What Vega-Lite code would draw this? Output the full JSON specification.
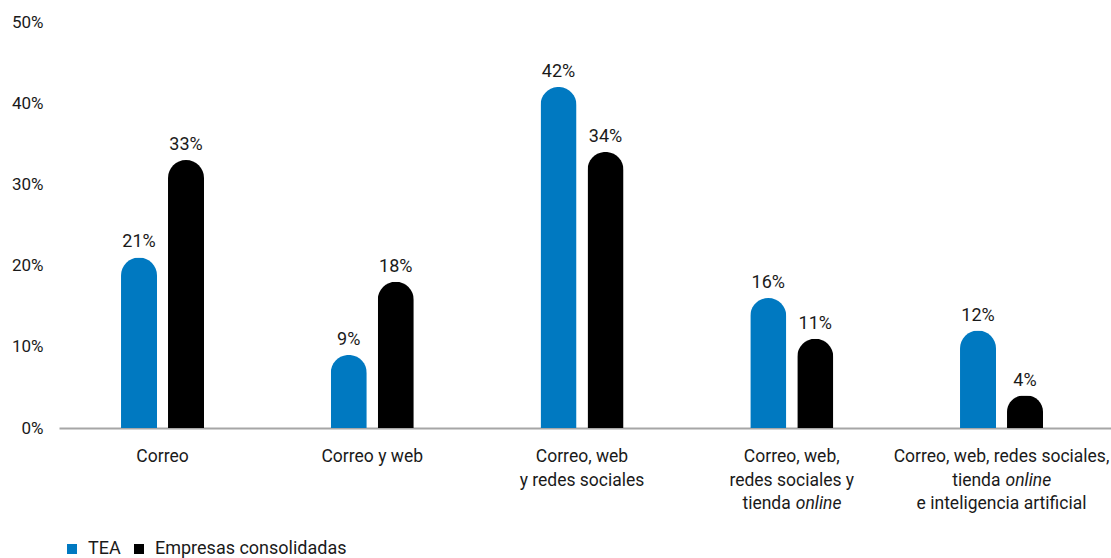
{
  "$schema": "https://vega.github.io/schema/vega-lite/v6.json",
  "autosize": "none",
  "width": 1052,
  "height": 406,
  "padding": {"left": 59, "top": 22, "right": 0, "bottom": 130},
  "background": "white",
  "config": {
    "view": {"stroke": null},
    "font": "Roboto",
    "text": {"font": "Roboto", "fontSize": 17.5, "color": "#1a1a1a", "baseline": "top"}
  },
  "datasets": {
    "bars": [
      {"cat": "Correo", "serie": "TEA", "value": 0.21},
      {"cat": "Correo", "serie": "Empresas consolidadas", "value": 0.33},
      {"cat": "Correo y web", "serie": "TEA", "value": 0.09},
      {"cat": "Correo y web", "serie": "Empresas consolidadas", "value": 0.18},
      {"cat": "Correo, web y redes sociales", "serie": "TEA", "value": 0.42},
      {"cat": "Correo, web y redes sociales", "serie": "Empresas consolidadas", "value": 0.34},
      {"cat": "Correo, web, redes sociales y tienda online", "serie": "TEA", "value": 0.16},
      {"cat": "Correo, web, redes sociales y tienda online", "serie": "Empresas consolidadas", "value": 0.11},
      {"cat": "Correo, web, redes sociales, tienda online e inteligencia artificial", "serie": "TEA", "value": 0.12},
      {"cat": "Correo, web, redes sociales, tienda online e inteligencia artificial", "serie": "Empresas consolidadas", "value": 0.04}
    ],
    "cats": [
      {"cat": "Correo", "row": 1, "style": "center", "text": "Correo"},
      {"cat": "Correo y web", "row": 1, "style": "center", "text": "Correo y web"},
      {"cat": "Correo, web y redes sociales", "row": 1, "style": "center", "text": "Correo, web"},
      {"cat": "Correo, web y redes sociales", "row": 2, "style": "center", "text": "y redes sociales"},
      {"cat": "Correo, web, redes sociales y tienda online", "row": 1, "style": "center", "text": "Correo, web,"},
      {"cat": "Correo, web, redes sociales y tienda online", "row": 2, "style": "center", "text": "redes sociales y"},
      {"cat": "Correo, web, redes sociales y tienda online", "row": 3, "style": "plain", "text": "tienda"},
      {"cat": "Correo, web, redes sociales y tienda online", "row": 3, "style": "ital", "text": "online"},
      {"cat": "Correo, web, redes sociales, tienda online e inteligencia artificial", "row": 1, "style": "center", "text": "Correo, web, redes sociales,"},
      {"cat": "Correo, web, redes sociales, tienda online e inteligencia artificial", "row": 2, "style": "plain", "text": "tienda"},
      {"cat": "Correo, web, redes sociales, tienda online e inteligencia artificial", "row": 2, "style": "ital", "text": "online"},
      {"cat": "Correo, web, redes sociales, tienda online e inteligencia artificial", "row": 3, "style": "center", "text": "e inteligencia artificial"}
    ]
  },
  "layer": [
    {
      "data": {"name": "bars"},
      "mark": {"type": "bar", "cornerRadiusTopLeft": 18, "cornerRadiusTopRight": 18},
      "encoding": {
        "x": {
          "field": "cat", "type": "nominal", "sort": null,
          "scale": {"paddingInner": 0.6043, "paddingOuter": 0.3099, "align": 0.477},
          "axis": {"labels": false, "ticks": false, "title": null, "domainColor": "#a6a6a6", "domainWidth": 2}
        },
        "xOffset": {
          "field": "serie", "type": "nominal",
          "sort": ["TEA", "Empresas consolidadas"],
          "scale": {"paddingInner": 0.234, "paddingOuter": 0}
        },
        "y": {
          "field": "value", "type": "quantitative",
          "scale": {"domain": [0, 0.5]},
          "axis": {
            "values": [0, 0.1, 0.2, 0.3, 0.4, 0.5], "format": ".0%", "title": null,
            "grid": false, "domain": false, "ticks": false, "labelPadding": 16,
            "labelFont": "Roboto", "labelFontSize": 17, "labelColor": "#1a1a1a"
          }
        },
        "color": {
          "field": "serie", "type": "nominal",
          "scale": {"domain": ["TEA", "Empresas consolidadas"], "range": ["#0079C1", "#000000"]},
          "legend": {
            "orient": "none", "legendX": 4, "legendY": 518, "direction": "horizontal",
            "title": null, "symbolType": "square", "symbolSize": 100, "symbolStrokeWidth": 0,
            "labelFont": "Roboto", "labelFontSize": 18, "labelColor": "#1a1a1a", "labelLimit": 400,
            "labelOffset": 7, "columnPadding": 9, "padding": 0
          }
        }
      }
    },
    {
      "data": {"name": "bars"},
      "mark": {"type": "text", "baseline": "bottom", "dy": -6, "fontSize": 18},
      "encoding": {
        "x": {"field": "cat", "type": "nominal", "sort": null},
        "xOffset": {"field": "serie", "type": "nominal", "sort": ["TEA", "Empresas consolidadas"]},
        "y": {"field": "value", "type": "quantitative"},
        "text": {"field": "value", "type": "quantitative", "format": ".0%"}
      }
    },
    {
      "data": {"name": "cats"},
      "transform": [{"filter": "datum.row === 1 && datum.style === 'center'"}],
      "mark": {"type": "text", "align": "center", "dy": 20},
      "encoding": {
        "x": {"field": "cat", "type": "nominal", "sort": null},
        "y": {"datum": 0, "type": "quantitative"},
        "text": {"field": "text"}
      }
    },
    {
      "data": {"name": "cats"},
      "transform": [{"filter": "datum.row === 2 && datum.style === 'center'"}],
      "mark": {"type": "text", "align": "center", "dy": 43.5},
      "encoding": {
        "x": {"field": "cat", "type": "nominal", "sort": null},
        "y": {"datum": 0, "type": "quantitative"},
        "text": {"field": "text"}
      }
    },
    {
      "data": {"name": "cats"},
      "transform": [{"filter": "datum.row === 3 && datum.style === 'center'"}],
      "mark": {"type": "text", "align": "center", "dy": 67},
      "encoding": {
        "x": {"field": "cat", "type": "nominal", "sort": null},
        "y": {"datum": 0, "type": "quantitative"},
        "text": {"field": "text"}
      }
    },
    {
      "data": {"name": "cats"},
      "transform": [{"filter": "datum.row === 2 && datum.style === 'plain'"}],
      "mark": {"type": "text", "align": "right", "dy": 43.5, "dx": -1},
      "encoding": {
        "x": {"field": "cat", "type": "nominal", "sort": null},
        "y": {"datum": 0, "type": "quantitative"},
        "text": {"field": "text"}
      }
    },
    {
      "data": {"name": "cats"},
      "transform": [{"filter": "datum.row === 3 && datum.style === 'plain'"}],
      "mark": {"type": "text", "align": "right", "dy": 67, "dx": -1},
      "encoding": {
        "x": {"field": "cat", "type": "nominal", "sort": null},
        "y": {"datum": 0, "type": "quantitative"},
        "text": {"field": "text"}
      }
    },
    {
      "data": {"name": "cats"},
      "transform": [{"filter": "datum.row === 2 && datum.style === 'ital'"}],
      "mark": {"type": "text", "align": "left", "dy": 43.5, "dx": 4, "fontStyle": "italic"},
      "encoding": {
        "x": {"field": "cat", "type": "nominal", "sort": null},
        "y": {"datum": 0, "type": "quantitative"},
        "text": {"field": "text"}
      }
    },
    {
      "data": {"name": "cats"},
      "transform": [{"filter": "datum.row === 3 && datum.style === 'ital'"}],
      "mark": {"type": "text", "align": "left", "dy": 67, "dx": 4, "fontStyle": "italic"},
      "encoding": {
        "x": {"field": "cat", "type": "nominal", "sort": null},
        "y": {"datum": 0, "type": "quantitative"},
        "text": {"field": "text"}
      }
    }
  ]
}
